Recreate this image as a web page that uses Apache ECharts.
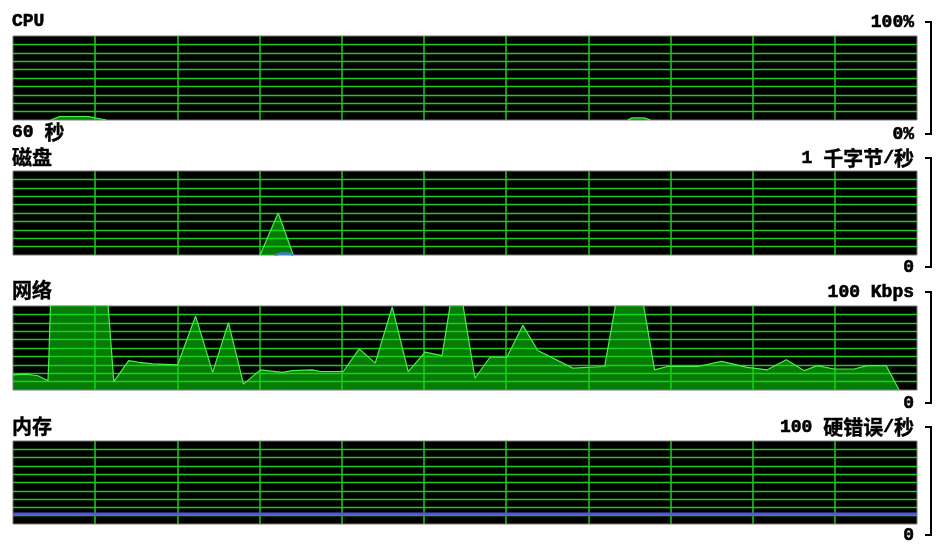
<!DOCTYPE html>
<html><head><meta charset="utf-8">
<script src="https://cdn.jsdelivr.net/npm/echarts@6/dist/echarts.min.js"></script>
<style>html,body{margin:0;padding:0;background:#fff;}#c{width:938px;height:547px;}</style>
</head><body><div id="c"></div>
<script>
// ---- texts ----
const panelTitles = ['CPU', '磁盘', '网络', '内存'];
const scaleTopLabels = ['100%', '1 千字节/秒', '100 Kbps', '100 硬错误/秒'];
const scaleBottomLabels = ['0%', '0', '0', '0'];
const spanLabel = '60 秒';

// ---- scales ----
const axisMax = [100, 1, 100, 100];
const windowSeconds = 60;
const verticalDivisions = 11;

// ---- data (time in seconds within the 60 s window) ----
const cpuTime    = [2.5, 3.1, 5.0, 6.2, 6.3, 40.8, 41.1, 41.9, 42.3];
const cpuPercent = [0, 4, 4, 0, null, 0, 2.5, 2.5, 0];

const diskTime  = [16.4, 17.6, 18.6];
const diskKBps  = [0, 0.5, 0];
const diskQueueTime = [17.4, 17.8, 18.3, 18.6];
const diskQueue     = [0, 0.02, 0.02, 0];

const netTime = [0, 0.86, 1.66, 2.32, 2.38, 2.52, 6.23, 6.69, 7.68, 8.34, 9.27, 10.93, 12.12, 13.25, 14.30,
  15.30, 16.42, 17.88, 18.54, 19.87, 20.40, 21.92, 22.98, 24.04, 25.17, 26.23, 27.35, 28.48, 29.14, 29.74,
  30.66, 31.66, 32.78, 33.84, 34.83, 37.15, 39.27, 40.13, 41.72, 42.58, 43.44, 45.43, 47.02, 48.74, 50.07,
  51.32, 52.52, 53.38, 54.50, 55.83, 56.69, 57.95, 58.81];
const netKbps = [18, 19, 17, 11, 37, 120, 120, 10, 35, 33, 31, 30, 88, 21, 80,
  7, 24, 21, 23, 24, 22, 22, 49, 32, 99, 22, 45, 41, 115, 115,
  14, 39, 39, 77, 47, 26, 28, 115, 115, 24, 28, 28, 34, 27, 24,
  36, 23, 29, 25, 25, 29, 29, 0];

const memTime = [0, 60];
const memHardFaults = [12, 12];

// ---- layout / style ----
const GRID_LEFT = 13, GRID_WIDTH = 904;
const gridTops = [36, 171, 306, 441];
const gridHeights = [84, 84, 84, 83];
const GRID_GREEN = '#22c822';
const LINE_GREEN = '#44f444';
const FILL_GREEN = 'rgba(12,220,12,0.56)';
const titleY = [21, 157, 290, 426];
const topLabelY = [22, 158, 292, 427];
const bottomLabelY = [134, 267, 403, 535];
const spanLabelY = 132;
const LABEL_RIGHT = 914;

function pairs(xs, ys) { return xs.map((x, i) => [x, ys[i] == null ? '-' : ys[i]]); }

const richStyle = {
  c: { fontFamily: 'Noto Sans CJK SC', fontWeight: 'bold', fontSize: 20, fill: '#000', color: '#000',
       stroke: '#000', lineWidth: 0.4, textStrokeColor: '#000', textStrokeWidth: 0.4 }
};
function richText(s) { return s.replace(/([\u4e00-\u9fff]+)/g, '{c|$1}'); }
function textEl(s, x, y, align) {
  return {
    type: 'text', silent: true, z: 100,
    style: {
      text: richText(s), x: x, y: y,
      fontFamily: 'Liberation Mono', fontWeight: 'bold', fontSize: 18,
      fill: '#000', stroke: '#000', lineWidth: 0.6,
      textAlign: align, align: align,
      textVerticalAlign: 'middle', verticalAlign: 'middle',
      rich: richStyle
    }
  };
}

const hidden = { axisLine: { show: false }, axisTick: { show: false }, axisLabel: { show: false } };
const grids = [], xAxes = [], yAxes = [];
for (let i = 0; i < 4; i++) {
  grids.push({ left: GRID_LEFT, width: GRID_WIDTH, top: gridTops[i], height: gridHeights[i],
    show: true, backgroundColor: '#000', borderColor: '#7a7a7a', borderWidth: 1 });
  // time axis carrying the data (seconds)
  xAxes.push(Object.assign({ type: 'value', gridIndex: i, min: 0, max: windowSeconds,
    splitLine: { show: false } }, hidden));
  yAxes.push(Object.assign({ type: 'value', gridIndex: i, min: 0, max: axisMax[i], interval: axisMax[i] / 10,
    splitLine: { show: true, showMinLine: false, showMaxLine: false, lineStyle: { color: GRID_GREEN, width: 1.3 } } }, hidden));
}
for (let i = 0; i < 4; i++) {
  // division axis that only draws the vertical grid lines
  xAxes.push(Object.assign({ type: 'value', gridIndex: i, min: 0, max: verticalDivisions, interval: 1,
    splitLine: { show: true, showMinLine: false, showMaxLine: false, lineStyle: { color: GRID_GREEN, width: 1.5 } } }, hidden));
}

const greenLine = (idx, data) => ({
  type: 'line', xAxisIndex: idx, yAxisIndex: idx, data: data, symbol: 'none', showSymbol: false,
  connectNulls: false, clip: true, silent: true,
  lineStyle: { color: LINE_GREEN, width: 1.2 }, areaStyle: { color: FILL_GREEN, opacity: 1 }
});

const series = [
  greenLine(0, pairs(cpuTime, cpuPercent)),
  greenLine(1, pairs(diskTime, diskKBps)),
  { type: 'line', xAxisIndex: 1, yAxisIndex: 1, data: pairs(diskQueueTime, diskQueue), symbol: 'none',
    clip: true, silent: true, lineStyle: { color: '#3f7fd0', width: 2 }, areaStyle: { color: '#3f7fd0' } },
  greenLine(2, pairs(netTime, netKbps)),
  { type: 'line', xAxisIndex: 3, yAxisIndex: 3, data: pairs(memTime, memHardFaults), symbol: 'none',
    clip: true, silent: true, lineStyle: { color: '#5454dc', width: 3 } }
];

const graphics = [];
for (let i = 0; i < 4; i++) {
  graphics.push(textEl(panelTitles[i], 12, titleY[i], 'left'));
  graphics.push(textEl(scaleTopLabels[i], LABEL_RIGHT, topLabelY[i], 'right'));
  graphics.push(textEl(scaleBottomLabels[i], LABEL_RIGHT, bottomLabelY[i], 'right'));
  graphics.push({ type: 'polyline', silent: true, z: 100,
    shape: { points: [[925, topLabelY[i]], [931, topLabelY[i]], [931, bottomLabelY[i]], [925, bottomLabelY[i]]] },
    style: { stroke: '#000', lineWidth: 2, fill: null } });
}
graphics.push(textEl(spanLabel, 12, spanLabelY, 'left'));

const chart = echarts.init(document.getElementById('c'), null, { renderer: 'canvas' });
chart.setOption({
  animation: false,
  backgroundColor: '#fff',
  grid: grids, xAxis: xAxes, yAxis: yAxes, series: series,
  graphic: { elements: graphics }
});
</script></body></html>
